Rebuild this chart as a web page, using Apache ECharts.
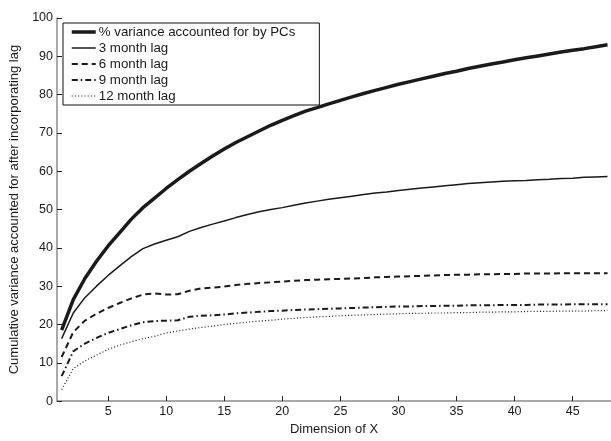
<!DOCTYPE html>
<html>
<head>
<meta charset="utf-8">
<script src="https://cdn.jsdelivr.net/npm/echarts@6/dist/echarts.min.js"></script>
<style>
  html, body { margin: 0; padding: 0; background: #fff; }
  #chart { width: 611px; height: 441px; }
</style>
</head>
<body>
<div id="chart"></div>
<script>
// Dimension of X (number of components retained)
const dims = Array.from({ length: 48 }, (_, i) => i + 1);

// Cumulative % variance explained by the principal components
const pcVariance = [18.5, 26.5, 32, 36.5, 40.5, 44, 47.5, 50.5, 53, 55.5,
  57.8, 60, 62, 64, 65.8, 67.5, 69, 70.5, 72, 73.3,
  74.5, 75.7, 76.6, 77.6, 78.5, 79.4, 80.3, 81.1, 81.9, 82.7,
  83.4, 84.1, 84.8, 85.5, 86.1, 86.8, 87.4, 88, 88.5, 89.1,
  89.6, 90.1, 90.6, 91.1, 91.6, 92, 92.5, 93];

// Cumulative variance accounted for after incorporating each lag
const lag3 = [16.3, 23, 27, 30, 32.8, 35.3, 37.7, 39.8, 41, 42,
  42.9, 44.3, 45.3, 46.2, 47, 47.9, 48.7, 49.4, 50, 50.5,
  51.1, 51.7, 52.2, 52.7, 53.1, 53.5, 53.9, 54.3, 54.6, 55,
  55.3, 55.6, 55.9, 56.2, 56.5, 56.8, 57, 57.2, 57.4, 57.5,
  57.6, 57.8, 57.9, 58.1, 58.2, 58.4, 58.5, 58.6];

const lag6 = [11.5, 18, 21, 22.8, 24.3, 25.6, 26.8, 27.8, 28.1, 27.8,
  27.9, 28.8, 29.4, 29.6, 29.9, 30.3, 30.6, 30.8, 31, 31.2,
  31.4, 31.6, 31.7, 31.8, 31.9, 32, 32.1, 32.3, 32.4, 32.5,
  32.6, 32.7, 32.8, 32.9, 33, 33, 33.1, 33.1, 33.2, 33.2,
  33.3, 33.3, 33.3, 33.4, 33.4, 33.4, 33.4, 33.4];

const lag9 = [6.5, 13, 15, 16.5, 17.8, 18.8, 19.8, 20.6, 20.9, 21,
  21.1, 22, 22.3, 22.4, 22.6, 22.9, 23.1, 23.3, 23.5, 23.6,
  23.8, 23.9, 24, 24.1, 24.2, 24.3, 24.4, 24.5, 24.6, 24.7,
  24.7, 24.8, 24.8, 24.9, 24.9, 25, 25, 25, 25.1, 25.1,
  25.1, 25.2, 25.2, 25.2, 25.3, 25.3, 25.3, 25.3];

const lag12 = [3, 8.5, 10.5, 12, 13.5, 14.6, 15.5, 16.3, 16.9, 17.8,
  18.3, 18.8, 19.2, 19.6, 20, 20.3, 20.6, 20.9, 21.1, 21.4,
  21.6, 21.8, 22, 22.1, 22.3, 22.4, 22.5, 22.6, 22.7, 22.8,
  22.9, 22.9, 23, 23, 23.1, 23.1, 23.2, 23.2, 23.3, 23.3,
  23.4, 23.4, 23.4, 23.5, 23.5, 23.5, 23.6, 23.6];

const seriesNames = ['% variance accounted for by PCs', '3 month lag', '6 month lag', '9 month lag', '12 month lag'];
const xTicks = [5, 10, 15, 20, 25, 30, 35, 40, 45];

const FONT = '"Liberation Sans", Arial, Helvetica, sans-serif';
const AXIS_GREY = '#8c8c8c';
const INK = '#1a1a1a';

// stroke width and dash pattern per series
const strokes = [
  { width: 3.5, type: 'solid' },
  { width: 1.5, type: 'solid' },
  { width: 2, type: [6, 4] },
  { width: 2, type: [6, 3, 1.5, 3] },
  { width: 1.2, type: [1, 2.2] }
];
const seriesValues = [pcVariance, lag3, lag6, lag9, lag12];

const pair = vals => dims.map((d, i) => [d, vals[i]]);

const series = seriesNames.map((name, k) => ({
  name,
  type: 'line',
  data: pair(seriesValues[k]),
  symbol: 'none',
  showSymbol: false,
  animation: false,
  itemStyle: { color: INK },
  lineStyle: { color: INK, width: strokes[k].width, type: strokes[k].type }
}));

const chart = echarts.init(document.getElementById('chart'), null, { renderer: 'canvas' });

chart.setOption({
  backgroundColor: '#ffffff',
  animation: false,
  textStyle: { fontFamily: FONT },
  grid: { left: 57, right: 0, top: 18, bottom: 36, containLabel: false },
  legend: {
    orient: 'vertical',
    left: 63,
    top: 23,
    padding: [2.5, 24, 2.5, 7],
    itemWidth: 24,
    itemHeight: 14,
    itemGap: 3,
    borderColor: '#111',
    borderWidth: 1,
    backgroundColor: '#fff',
    selectedMode: false,
    itemStyle: { color: 'transparent', borderWidth: 0, opacity: 0 },
    textStyle: { fontFamily: FONT, fontSize: 13.3, color: INK, padding: [0, 0, 0, -2] },
    data: seriesNames.map((name, k) => ({
      name,
      lineStyle: { color: INK, width: strokes[k].width, type: strokes[k].type }
    }))
  },
  xAxis: {
    type: 'value',
    min: 0.6,
    max: 48.3,
    name: 'Dimension of X',
    nameLocation: 'middle',
    nameGap: 16,
    nameTextStyle: { fontFamily: FONT, fontSize: 13, color: INK },
    axisLine: { show: true, lineStyle: { color: AXIS_GREY, width: 1.5 } },
    axisTick: { show: true, inside: true, length: 5, customValues: xTicks, lineStyle: { color: '#222', width: 1 } },
    axisLabel: { customValues: xTicks, fontFamily: FONT, fontSize: 12.5, color: INK, margin: 4 },
    splitLine: { show: false }
  },
  yAxis: {
    type: 'value',
    min: 0,
    max: 100,
    interval: 10,
    name: 'Cumulative variance accounted for after incorporating lag',
    nameLocation: 'middle',
    nameGap: 35,
    nameTextStyle: { fontFamily: FONT, fontSize: 13, color: INK },
    axisLine: { show: true, lineStyle: { color: AXIS_GREY, width: 1.5 } },
    axisTick: { show: true, inside: true, length: 5, lineStyle: { color: '#222', width: 1 } },
    axisLabel: { fontFamily: FONT, fontSize: 12.5, color: INK, margin: 4 },
    splitLine: { show: false }
  },
  series
});
</script>
</body>
</html>
